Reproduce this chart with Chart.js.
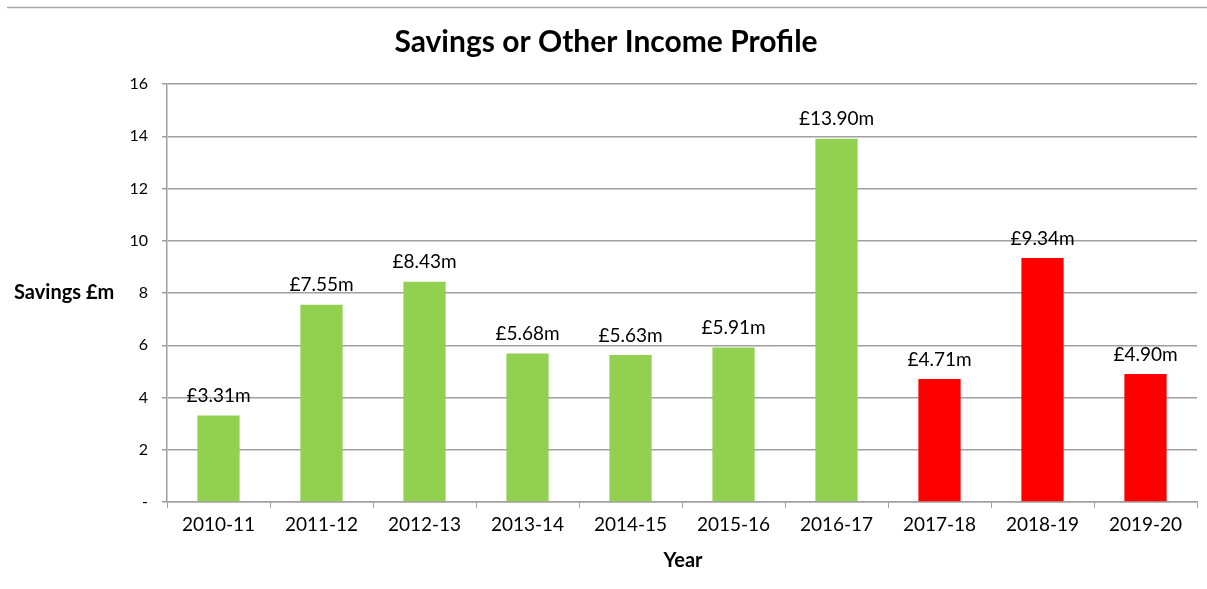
<!DOCTYPE html>
<html>
<head>
<meta charset="utf-8">
<script src="https://cdn.jsdelivr.net/npm/chart.js@4"></script>
<style>
  html, body { margin: 0; padding: 0; background: #fff; }
  #wrap { width: 1207px; height: 589px; }
</style>
</head>
<body>
<div id="wrap"><canvas id="savings-chart" width="1207" height="589"></canvas></div>
<script>
// dados do gráfico
var years = ["2010-11", "2011-12", "2012-13", "2013-14", "2014-15", "2015-16", "2016-17", "2017-18", "2018-19", "2019-20"];
var savings = [3.31, 7.55, 8.43, 5.68, 5.63, 5.91, 13.90, 4.71, 9.34, 4.90];
var forecastFrom = 7; // a partir de 2017-18 as barras são vermelhas
var yTicks = [0, 2, 4, 6, 8, 10, 12, 14, 16];

var FONT = "Lato, 'Open Sans', sans-serif";

var barColors = savings.map(function (v, i) {
    return i >= forecastFrom ? "#FF0000" : "#92D050";
});

// textos desenhados à mão: título, eixos e rótulos das barras
var textPlugin = {
    id: "textPlugin",
    afterDraw: function (chart) {
        var c = chart.ctx;
        var area = chart.chartArea;
        c.save();
        // linha de borda no topo
        c.strokeStyle = "#A6A6A6";
        c.lineWidth = 1.5;
        c.beginPath();
        c.moveTo(7, 7.5);
        c.lineTo(1207, 7.5);
        c.stroke();

        c.fillStyle = "#000";
        c.textAlign = "center";
        c.textBaseline = "middle";
        c.font = "bold 30px " + FONT;
        c.fillText("Savings or Other Income Profile", 606, 42);

        c.font = "bold 20px " + FONT;
        c.fillText("Year", 683, 561);
        c.textAlign = "left";
        c.fillText("Savings £m", 14, (area.top + area.bottom) / 2);

        // rótulos em cima das barras
        c.textAlign = "center";
        c.textBaseline = "bottom";
        c.font = "19px " + FONT;
        var meta = chart.getDatasetMeta(0);
        meta.data.forEach(function (bar, i) {
            c.fillText("£" + savings[i].toFixed(2) + "m", bar.x, bar.y - 10);
        });
        c.restore();
    }
};

new Chart(document.getElementById("savings-chart").getContext("2d"), {
    type: "bar",
    data: {
        labels: years,
        datasets: [{
            data: savings,
            backgroundColor: barColors,
            barPercentage: 0.41,
            categoryPercentage: 1
        }]
    },
    options: {
        responsive: false,
        animation: false,
        layout: { padding: { top: 84, right: 10, left: 0, bottom: 0 } },
        plugins: {
            legend: { display: false },
            tooltip: { enabled: false }
        },
        scales: {
            x: {
                grid: { drawOnChartArea: false, drawTicks: true, tickLength: 6, color: "#A0A0A0" },
                border: { color: "#A0A0A0", width: 1.5 },
                ticks: { color: "#000", font: { family: FONT, size: 19 }, padding: 5, maxRotation: 0 },
                afterFit: function (scale) { scale.height = 87; }
            },
            y: {
                min: 0,
                max: 16,
                afterBuildTicks: function (scale) {
                    scale.ticks = yTicks.map(function (v) { return { value: v }; });
                },
                grid: { color: "#A0A0A0", lineWidth: 1.5, tickLength: 5 },
                border: { color: "#A0A0A0", width: 1.5 },
                ticks: {
                    color: "#000",
                    font: { family: FONT, size: 16 },
                    padding: 14,
                    callback: function (value) { return value === 0 ? "-" : value; }
                },
                afterFit: function (scale) { scale.width = 167; }
            }
        }
    },
    plugins: [textPlugin]
});
</script>
</body>
</html>
